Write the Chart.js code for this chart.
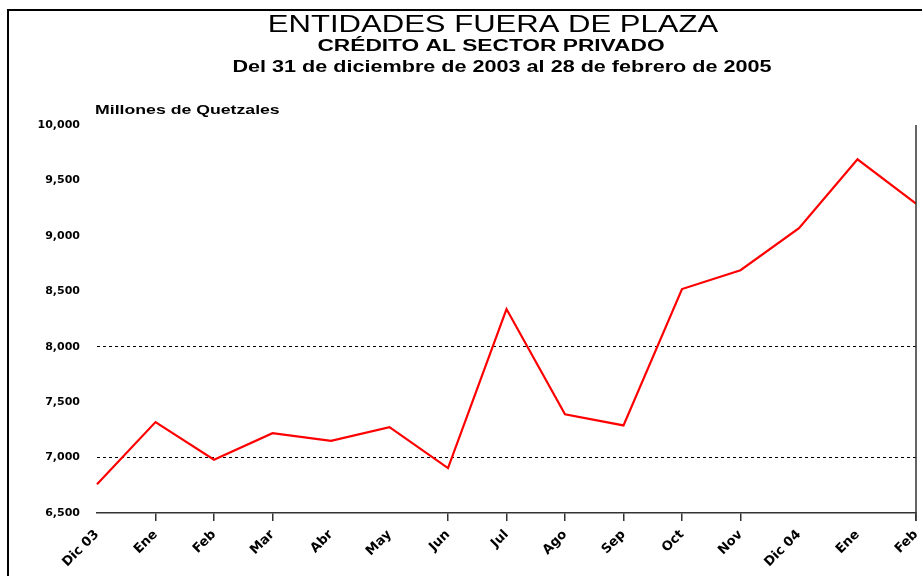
<!DOCTYPE html>
<html lang="es">
<head>
    <meta charset="UTF-8">
    <title>Entidades fuera de plaza</title>
    <script src="https://cdn.jsdelivr.net/npm/chart.js"></script>
    <style>
        html, body { margin: 0; padding: 0; background: #fff; }
        #wrap { width: 922px; height: 576px; position: relative; }
    </style>
</head>
<body>
    <div id="wrap"><canvas id="grafica"></canvas></div>
    <script>
        // meses (dic 2003 - feb 2005)
        const meses = ['Dic 03', 'Ene', 'Feb', 'Mar', 'Abr', 'May', 'Jun', 'Jul', 'Ago', 'Sep', 'Oct', 'Nov', 'Dic 04', 'Ene', 'Feb'];
        // credito, millones de quetzales
        const credito = [6760, 7320, 6980, 7220, 7150, 7275, 6905, 8340, 7390, 7290, 8520, 8690, 9070, 9690, 9290];
        const lineasPunteadas = [7000, 8000];
        const yMin = 6500, yMax = 10000, yPaso = 500;
        // el original no marca todos los meses en el eje
        const sinMarca = [0, 4, 5, 12, 13];

        // texto estirado a lo ancho, como en el original
        function textoAncho(c, txt, x, y, escala) {
            c.save();
            c.translate(x, y);
            c.scale(escala, 1);
            c.fillText(txt, 0, 0);
            c.restore();
        }

        const titulos = {
            id: 'titulos',
            afterDraw(chart) {
                const c = chart.ctx, a = chart.chartArea;
                c.save();
                // marco de la pagina
                c.strokeStyle = '#000';
                c.lineWidth = 2;
                c.beginPath();
                c.moveTo(8, 576); c.lineTo(8, 10); c.lineTo(922, 10);
                c.stroke();
                // eje derecho
                c.strokeStyle = '#333';
                c.lineWidth = 1.5;
                c.beginPath();
                c.moveTo(a.right, a.top); c.lineTo(a.right, a.bottom + 8);
                c.stroke();
                c.fillStyle = '#000';
                c.textAlign = 'center';
                c.textBaseline = 'middle';
                c.font = '23px "Liberation Sans", Arial, sans-serif';
                textoAncho(c, 'ENTIDADES FUERA DE PLAZA', 493, 26, 1.35);
                c.font = 'bold 16px "Liberation Sans", Arial, sans-serif';
                textoAncho(c, 'CRÉDITO AL SECTOR PRIVADO', 491, 47, 1.42);
                textoAncho(c, 'Del 31 de diciembre de 2003 al 28 de febrero de 2005', 502, 68, 1.35);
                c.textAlign = 'left';
                c.font = 'bold 13px "Liberation Sans", Arial, sans-serif';
                textoAncho(c, 'Millones de Quetzales', 95, 110, 1.36);
                c.restore();
            }
        };

        new Chart(document.getElementById('grafica'), {
            type: 'line',
            data: {
                labels: meses,
                datasets: [{
                    data: credito,
                    borderColor: '#ff0000',
                    borderWidth: 2.2,
                    pointRadius: 0,
                    tension: 0
                }]
            },
            options: {
                responsive: true,
                maintainAspectRatio: false,
                animation: false,
                layout: { padding: { top: 125, left: 8, right: 6, bottom: 0 } },
                plugins: {
                    legend: { display: false },
                    tooltip: { enabled: false }
                },
                scales: {
                    x: {
                        offset: false,
                        afterFit(s) { s.height = 63; s.paddingRight = 0; },
                        border: { display: true, color: '#333', width: 1.5 },
                        grid: {
                            drawOnChartArea: false, tickLength: 8, lineWidth: 1.5,
                            color: ctx => sinMarca.includes(ctx.index) ? 'transparent' : '#333'
                        },
                        ticks: {
                            maxRotation: 45, minRotation: 45, autoSkip: false,
                            padding: 6,
                            color: '#000',
                            font: { family: '"DejaVu Sans", sans-serif', size: 13, weight: 'bold' }
                        }
                    },
                    y: {
                        min: yMin, max: yMax,
                        afterFit(s) { s.width = 89; },
                        grid: {
                            drawTicks: false,
                            color: ctx => lineasPunteadas.includes(ctx.tick.value) ? '#000' : 'transparent',
                            lineWidth: 1
                        },
                        border: { display: false, dash: [3, 3] },
                        ticks: {
                            stepSize: yPaso,
                            padding: 17,
                            color: '#000',
                            font: { family: '"DejaVu Sans", sans-serif', size: 11, weight: 'bold' },
                            callback: v => v.toLocaleString('en-US')
                        }
                    }
                }
            },
            plugins: [titulos]
        });
    </script>
</body>
</html>
